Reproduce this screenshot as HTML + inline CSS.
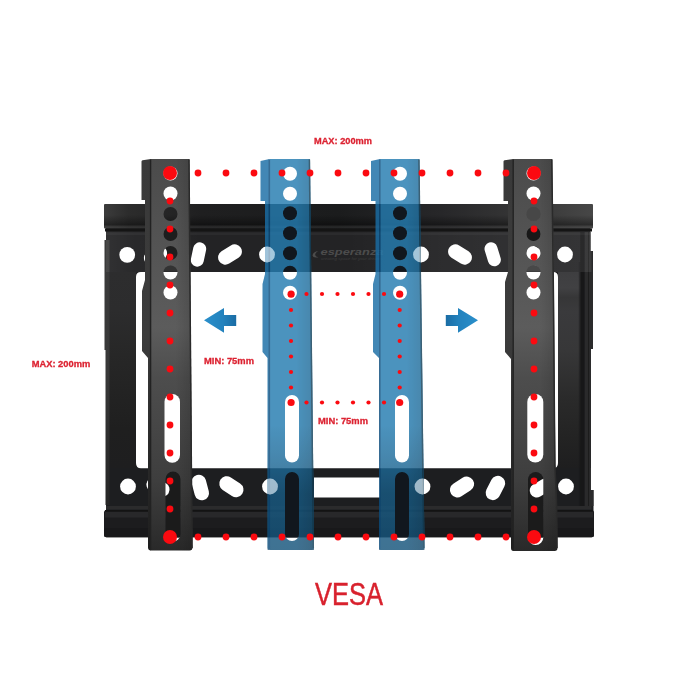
<!DOCTYPE html>
<html><head><meta charset="utf-8">
<style>
html,body{margin:0;padding:0;background:#fff;}
body{width:700px;height:700px;overflow:hidden;font-family:"Liberation Sans",sans-serif;}
svg{display:block}
text{font-family:"Liberation Sans",sans-serif;}
</style></head><body>
<svg width="700" height="700" viewBox="0 0 700 700">
<defs>
  <!-- frame holes (drawn white on top of frame) -->
  <g id="topholes">
    <circle cx="127.2" cy="254.8" r="7.9"/>
    <rect x="143.25" y="248.25" width="24.5" height="14.5" rx="7.25" transform="rotate(-30 155.5 255.5)"/>
    <rect x="186.25" y="248" width="24.5" height="13" rx="6.5" transform="rotate(-78 198.5 254.5)"/>
    <rect x="217.25" y="247.25" width="25.5" height="14.5" rx="7.25" transform="rotate(-32 230 254.5)"/>
    <circle cx="267" cy="254.5" r="7.9"/>
    <circle cx="421" cy="254.5" r="7.9"/>
    <rect x="447.25" y="247.25" width="25.5" height="14.5" rx="7.25" transform="rotate(32 460 254.5)"/>
    <rect x="480.45" y="247.8" width="24.5" height="13" rx="6.5" transform="rotate(73 492.7 254.3)"/>
    <rect x="518.5" y="246" width="28" height="17" rx="8.5" transform="rotate(30 532.5 254.5)"/>
    <circle cx="565" cy="254.5" r="7.9"/>
  </g>
  <g id="botholes">
    <circle cx="128" cy="486.5" r="7.9"/>
    <rect x="145.75" y="479.75" width="24.5" height="14.5" rx="7.25" transform="rotate(30 158 487)"/>
    <rect x="187.3" y="480.25" width="26" height="14.5" rx="7.25" transform="rotate(75 200.3 487.5)"/>
    <rect x="218.4" y="479.2" width="26" height="15" rx="7.5" transform="rotate(33 231.4 486.7)"/>
    <circle cx="270" cy="486.5" r="7.9"/>
    <circle cx="422.5" cy="486.5" r="7.9"/>
    <rect x="449" y="479.5" width="26" height="15" rx="7.5" transform="rotate(-33 462 487)"/>
    <rect x="482.65" y="480.75" width="25.5" height="14.5" rx="7.25" transform="rotate(-63 495.4 488)"/>
    <rect x="529" y="481" width="24" height="14" rx="7" transform="rotate(-30 541 488)"/>
    <circle cx="566" cy="486.5" r="7.9"/>
  </g>

  <linearGradient id="lipg" x1="0" y1="0" x2="0" y2="1">
    <stop offset="0" stop-color="#2a2a2a"/><stop offset="0.25" stop-color="#1d1d1d"/><stop offset="1" stop-color="#181818"/>
  </linearGradient>
  <linearGradient id="blipg" x1="0" y1="0" x2="0" y2="1">
    <stop offset="0" stop-color="#2c2c2c"/><stop offset="0.2" stop-color="#1a1a1a"/><stop offset="1" stop-color="#111"/>
  </linearGradient>
  <linearGradient id="armface" gradientUnits="userSpaceOnUse" x1="0" y1="159" x2="0" y2="551">
    <stop offset="0" stop-color="#4b4b4b"/><stop offset="0.18" stop-color="#525252"/><stop offset="0.43" stop-color="#5c5c5c"/>
    <stop offset="0.56" stop-color="#4d4d4d"/><stop offset="0.72" stop-color="#444"/><stop offset="0.82" stop-color="#3e3e3e"/><stop offset="0.92" stop-color="#333"/><stop offset="1" stop-color="#292929"/>
  </linearGradient>
  <linearGradient id="armflange" gradientUnits="userSpaceOnUse" x1="0" y1="159" x2="0" y2="551">
    <stop offset="0" stop-color="#393939"/><stop offset="0.45" stop-color="#3c3c3c"/><stop offset="0.72" stop-color="#2c2c2c"/><stop offset="1" stop-color="#1e1e1e"/>
  </linearGradient>
  <linearGradient id="plateg" gradientUnits="userSpaceOnUse" x1="0" y1="227" x2="0" y2="512">
    <stop offset="0" stop-color="#232325"/><stop offset="0.5" stop-color="#232324"/><stop offset="0.85" stop-color="#1d1e20"/><stop offset="1" stop-color="#1d1e20"/>
  </linearGradient>
  <linearGradient id="liph" gradientUnits="userSpaceOnUse" x1="104" y1="0" x2="593" y2="0">
    <stop offset="0" stop-color="#3c3c3c"/><stop offset="0.05" stop-color="#2c2c2c"/><stop offset="0.2" stop-color="#1f1f20"/>
    <stop offset="0.48" stop-color="#1b1c1d"/><stop offset="0.69" stop-color="#272729"/><stop offset="0.9" stop-color="#3a3a3a"/><stop offset="1" stop-color="#474747"/>
  </linearGradient>
  <linearGradient id="lipv" x1="0" y1="0" x2="0" y2="1">
    <stop offset="0" stop-color="#000" stop-opacity="0"/><stop offset="0.45" stop-color="#000" stop-opacity="0"/><stop offset="0.85" stop-color="#000" stop-opacity="0.4"/><stop offset="1" stop-color="#000" stop-opacity="0.1"/>
  </linearGradient>
  <linearGradient id="hlh" gradientUnits="userSpaceOnUse" x1="104" y1="0" x2="593" y2="0">
    <stop offset="0" stop-color="#fff" stop-opacity="0.07"/><stop offset="0.06" stop-color="#fff" stop-opacity="0.03"/><stop offset="0.2" stop-color="#fff" stop-opacity="0"/>
    <stop offset="0.5" stop-color="#fff" stop-opacity="0"/><stop offset="0.69" stop-color="#fff" stop-opacity="0.045"/><stop offset="1" stop-color="#fff" stop-opacity="0.08"/>
  </linearGradient>
  <linearGradient id="sideL" gradientUnits="userSpaceOnUse" x1="0" y1="272" x2="0" y2="468">
    <stop offset="0" stop-color="#2d2d2e"/><stop offset="0.2" stop-color="#2c2c2d"/><stop offset="0.42" stop-color="#272727"/><stop offset="0.8" stop-color="#1f1f1f"/><stop offset="1" stop-color="#1e1e1f"/>
  </linearGradient>
  <linearGradient id="sideR" gradientUnits="userSpaceOnUse" x1="0" y1="272" x2="0" y2="468">
    <stop offset="0" stop-color="#3e3e40"/><stop offset="0.08" stop-color="#414143"/><stop offset="0.13" stop-color="#363637"/><stop offset="0.2" stop-color="#3a3a3c"/><stop offset="0.4" stop-color="#373738"/><stop offset="0.65" stop-color="#2a2a2a"/><stop offset="0.85" stop-color="#232323"/><stop offset="1" stop-color="#1e1e1f"/>
  </linearGradient>
  <linearGradient id="sideRband" gradientUnits="userSpaceOnUse" x1="573" y1="0" x2="589" y2="0">
    <stop offset="0" stop-color="#161617" stop-opacity="0"/><stop offset="0.35" stop-color="#161617" stop-opacity="1"/><stop offset="1" stop-color="#1c1c1d" stop-opacity="1"/>
  </linearGradient>
  <linearGradient id="sideHL" gradientUnits="userSpaceOnUse" x1="0" y1="240" x2="0" y2="506">
    <stop offset="0" stop-color="#3a3a3a"/><stop offset="0.5" stop-color="#383838"/><stop offset="0.8" stop-color="#2c2c2c"/><stop offset="1" stop-color="#262626"/>
  </linearGradient>
  <linearGradient id="bluedark" gradientUnits="userSpaceOnUse" x1="0" y1="425" x2="0" y2="550">
    <stop offset="0" stop-color="#0d3a58" stop-opacity="0"/><stop offset="0.25" stop-color="#0d3a58" stop-opacity="0.22"/>
    <stop offset="0.55" stop-color="#0d3a58" stop-opacity="0.52"/><stop offset="1" stop-color="#0d3a58" stop-opacity="0.6"/>
  </linearGradient>
  <clipPath id="cB1"><path d="M260.5,159 H310 L314,550 H267.5 V358 L262.5,352 V284 L265,274 V201 H260.5 Z"/></clipPath>
  <clipPath id="cB2"><path d="M371,159 H419.5 L424.5,550 H379 V358 L373,352 V284 L375.5,274 V201 H371 Z"/></clipPath>
  <linearGradient id="faceh" x1="0" y1="0" x2="1" y2="0">
    <stop offset="0" stop-color="#000" stop-opacity="0"/><stop offset="0.6" stop-color="#000" stop-opacity="0"/><stop offset="1" stop-color="#000" stop-opacity="0.14"/>
  </linearGradient>
  <clipPath id="cLf"><path d="M150.5,159 H189.5 L192.5,547.5 Q192.5,550.5 189.5,550.5 H150.5 Z"/></clipPath>
  <clipPath id="cRf"><path d="M513,159 H552.3 L554,300 L554.8,400 L555.4,465 L557,500 L557.5,548 Q557.5,551 554.5,551 H513 Z"/></clipPath>
  <clipPath id="plateclip"><path d="M106,227 H590.5 V251 H593 V349 H590.8 V490 H593.5 V512 H106 Z"/></clipPath>
  <linearGradient id="arrowL" x1="0" y1="0" x2="1" y2="0">
    <stop offset="0" stop-color="#2a8fcb"/><stop offset="0.6" stop-color="#2382bd"/><stop offset="1" stop-color="#1a6ca4"/>
  </linearGradient>
  <linearGradient id="arrowR" x1="0" y1="0" x2="1" y2="0">
    <stop offset="0" stop-color="#1a6ca4"/><stop offset="0.4" stop-color="#2382bd"/><stop offset="1" stop-color="#2a8fcb"/>
  </linearGradient>

  <!-- arm masks: white = visible, black = hole -->
  <mask id="mLarm" maskUnits="userSpaceOnUse" x="0" y="0" width="700" height="700">
    <rect width="700" height="700" fill="#fff"/>
    <g fill="#000">
      <circle cx="170.5" cy="173.5" r="7"/><circle cx="170.5" cy="193.5" r="7"/><circle cx="170.5" cy="214" r="7"/>
      <circle cx="170.5" cy="234" r="7"/><circle cx="170.5" cy="253" r="7"/><circle cx="170.5" cy="272.5" r="7"/>
      <circle cx="170.5" cy="292.5" r="7"/>
      <rect x="164.5" y="394" width="15.5" height="68.7" rx="7.7"/>
      <rect x="165.5" y="471.5" width="15" height="70" rx="7.5"/>
    </g>
  </mask>
  <mask id="mRarm" maskUnits="userSpaceOnUse" x="0" y="0" width="700" height="700">
    <rect width="700" height="700" fill="#fff"/>
    <g fill="#000">
      <circle cx="533.5" cy="173.5" r="7"/><circle cx="533.5" cy="193.5" r="7"/><circle cx="533.5" cy="214" r="7"/>
      <circle cx="533.5" cy="234" r="7"/><circle cx="533.5" cy="253" r="7"/><circle cx="533.5" cy="272.5" r="7"/>
      <circle cx="533.5" cy="292.5" r="7"/>
      <rect x="527.3" y="394" width="16" height="68.5" rx="8"/>
      <rect x="528" y="472" width="15.3" height="73" rx="7.6"/>
    </g>
  </mask>
  <mask id="mB1" maskUnits="userSpaceOnUse" x="0" y="0" width="700" height="700">
    <rect width="700" height="700" fill="#fff"/>
    <g fill="#000">
      <circle cx="290" cy="173.7" r="7"/><circle cx="290" cy="193.7" r="7"/><circle cx="290" cy="213.2" r="7"/>
      <circle cx="290" cy="233.2" r="7"/><circle cx="290" cy="253.2" r="7"/><circle cx="290" cy="272.7" r="7"/>
      <circle cx="290" cy="292.7" r="7"/>
      <rect x="285" y="395" width="14" height="67.5" rx="7"/>
      <rect x="285" y="472" width="14" height="69" rx="7"/>
    </g>
  </mask>
  <mask id="mB2" maskUnits="userSpaceOnUse" x="0" y="0" width="700" height="700">
    <rect width="700" height="700" fill="#fff"/>
    <g fill="#000">
      <circle cx="400" cy="173.7" r="7"/><circle cx="400" cy="193.7" r="7"/><circle cx="400" cy="213.2" r="7"/>
      <circle cx="400" cy="233.2" r="7"/><circle cx="400" cy="253.2" r="7"/><circle cx="400" cy="272.7" r="7"/>
      <circle cx="400" cy="292.7" r="7"/>
      <rect x="395" y="395" width="14" height="67.5" rx="7"/>
      <rect x="395" y="472" width="14" height="69" rx="7"/>
    </g>
  </mask>
  <mask id="mSolid" maskUnits="userSpaceOnUse" x="0" y="0" width="700" height="700">
    <rect width="700" height="700" fill="#000"/>
    <rect x="104" y="204" width="490" height="67.7" fill="#fff"/>
    <rect x="104" y="469" width="490" height="68.5" fill="#fff"/>
    <use href="#topholes" fill="#000"/><use href="#botholes" fill="#000"/>
    <rect x="314" y="477.5" width="66" height="20" fill="#000"/>
  </mask>
  <clipPath id="frameclip">
    <rect x="104" y="204" width="490" height="67.5"/>
    <rect x="104" y="469" width="490" height="68.5"/>
  </clipPath>
</defs>

<rect width="700" height="700" fill="#fff"/>

<!-- ===== FRAME ===== -->
<g id="frame">
  <!-- main plate with opening -->
  <path fill="url(#plateg)" fill-rule="evenodd" d="M106,227 H590.5 V251 H593 V349 H590.8 V490 H593.5 V512 H106 Z M141,272 H553 Q558,272 558,277 V463 Q558,468.3 553,468.3 H141 Q136,468.3 136,463 V277 Q136,272 141,272 Z"/>
  <!-- side bars -->
  <rect x="106" y="272" width="30" height="196" fill="url(#sideL)"/>
  <path d="M104.5,240 H109.5 V505 H105.5 V350 H104.5 Z" fill="url(#sideHL)"/>
  <rect x="558" y="272" width="33" height="196" fill="url(#sideR)"/>
  <g clip-path="url(#plateclip)">
    <rect x="584" y="232" width="10" height="274" fill="#2a2a2b"/>
    <rect x="580.3" y="232" width="4.3" height="274" fill="#171718"/>
    <rect x="578.8" y="262" width="1.5" height="244" fill="#171718" opacity="0.45"/>
    <rect x="588" y="232" width="0.8" height="274" fill="#1a1a1a"/>
  </g>
  <rect x="106" y="228" width="485.5" height="44" fill="url(#hlh)"/>
  <!-- top lip -->
  <rect x="104" y="204" width="489" height="24.5" rx="1" fill="url(#liph)"/>
  <rect x="104" y="204" width="489" height="24.5" rx="1" fill="url(#lipv)"/>
  <rect x="104" y="225.5" width="489" height="2.5" fill="#fff" opacity="0.07"/>
  <rect x="105" y="228.5" width="487" height="3" fill="#141414"/>
  <rect x="106" y="232.5" width="485.5" height="2.5" fill="#fff" opacity="0.04"/>
  <!-- bottom bar bands + lip -->
  <rect x="106" y="506" width="485.5" height="3.5" fill="#2b2b2c"/>
  <rect x="104" y="510" width="490" height="27.3" rx="2.5" fill="#1c1c1e"/>
  <rect x="105" y="510" width="488" height="1.5" fill="#131313"/>
  <rect x="105" y="512" width="488" height="5.5" fill="#28282a"/>
  <rect x="104" y="528" width="490" height="9.3" rx="2.5" fill="#18181a"/>
  <!-- see-through of arm holes over frame -->
  <g clip-path="url(#frameclip)">
    <circle cx="170.5" cy="234" r="7.3" fill="#1d1d1d"/><circle cx="170.5" cy="253.1" r="7.3" fill="#1f1f1f"/>
    <circle cx="170.5" cy="272.6" r="7.3" fill="#333"/>
    <circle cx="533.5" cy="214" r="7.3" fill="#474747"/><circle cx="533.5" cy="234" r="7.3" fill="#181818"/>
    <circle cx="533.5" cy="253.1" r="7.3" fill="#222"/><circle cx="533.5" cy="272.6" r="7.3" fill="#484848"/>
    <rect x="165.5" y="471.5" width="15" height="70" rx="7.5" fill="#1b1b1b"/>
    <rect x="528" y="472" width="15.3" height="73" rx="7.6" fill="#1b1b1b"/>
  </g>
  <g clip-path="url(#frameclip)" fill="#11171e">
    <circle cx="290" cy="213.1" r="7"/><circle cx="290" cy="233.1" r="7"/><circle cx="290" cy="253.1" r="7"/><circle cx="290" cy="272.6" r="7"/>
    <circle cx="400" cy="213.1" r="7"/><circle cx="400" cy="233.1" r="7"/><circle cx="400" cy="253.1" r="7"/><circle cx="400" cy="272.6" r="7"/>
    <rect x="285" y="472" width="14" height="69" rx="7"/>
    <rect x="395" y="472" width="14" height="69" rx="7"/>
  </g>
  <!-- holes -->
  <use href="#topholes" fill="#fff"/>
  <use href="#botholes" fill="#fff"/>
  <rect x="314" y="477.5" width="66" height="20" fill="#fff"/>
  <!-- logo -->
  <g fill="#4c4c4c" font-style="italic" font-weight="bold">
    <path d="M312.5,255.5 Q313,251.5 318.5,251 Q315,252.5 315.2,255 Q315.5,257 318.5,257.2 Q313,258.3 312.5,255.5 Z"/>
    <text x="320.5" y="255.2" font-size="9.6" textLength="63" lengthAdjust="spacingAndGlyphs">esperanza</text>
    <text x="321" y="259.6" font-size="3.6" font-weight="normal" fill="#3c3c3c" textLength="62" lengthAdjust="spacingAndGlyphs">creating space for your dreams</text>
  </g>
</g>

<!-- ===== LEFT BLACK ARM ===== -->
<g mask="url(#mLarm)">
  <path fill="url(#armflange)" d="M141.5,161.5 Q141.5,160.5 142.5,160.3 L151,159 V550.5 Q148,550.5 148,547.5 V358 L142,351 V291 L145,280 V200 H141.5 Z"/>
  <path fill="url(#armface)" d="M150.5,159 H189.5 L192.5,547.5 Q192.5,550.5 189.5,550.5 H150.5 Z"/>
  <rect x="150.5" y="159" width="42" height="392" fill="url(#faceh)" clip-path="url(#cLf)"/>
  <path d="M150.6,159.5 V550" stroke="#222" stroke-width="1.4" fill="none"/>
  <path d="M189,159.5 L192,548" stroke="#2a2a2a" stroke-width="1.5" fill="none"/>
</g>

<!-- ===== RIGHT BLACK ARM ===== -->
<g mask="url(#mRarm)">
  <path fill="url(#armflange)" d="M503.5,161.5 Q503.5,160.5 504.5,160.3 L513.5,159 V551 Q511,551 511,548 V359 L505,352 V282 L508,272 V201 H503.5 Z"/>
  <path fill="url(#armface)" d="M513,159 H552.3 L554,300 L554.8,400 L555.4,465 L557,500 L557.5,548 Q557.5,551 554.5,551 H513 Z"/>
  <rect x="513" y="159" width="44.5" height="392" fill="url(#faceh)" clip-path="url(#cRf)"/>
  <path d="M513.2,159.5 V550" stroke="#222" stroke-width="1.4" fill="none"/>
  <path d="M551.8,159.5 L553.5,300 L554.3,400 L554.9,465 L556.5,500 L557,548" stroke="#2a2a2a" stroke-width="1.5" fill="none"/>
</g>

<!-- ===== BLUE ARMS ===== -->
<g mask="url(#mB1)"><g opacity="0.825">
  <path fill="#1a6ea6" d="M260.5,161 L269.5,159 V550 H269.5 Q267.5,550 267.5,548 V358 L262.5,352 V284 L265,274 V201 H260.5 Z"/>
  <path fill="#257cb0" d="M269.5,159 H310 L314,548 Q314,550 312,550 H269.5 Z"/>
  <rect x="260" y="425" width="56" height="126" fill="url(#bluedark)" clip-path="url(#cB1)"/>
  <rect x="269.5" y="159" width="44.5" height="392" fill="url(#faceh)" clip-path="url(#cB1)"/>
  <path d="M269.3,159.5 V549" stroke="#0b4c7c" stroke-width="1.6" fill="none"/>
  <path d="M309.4,159.5 L313.3,548" stroke="#123f58" stroke-width="1.5" fill="none"/>
</g></g>
<g mask="url(#mB2)"><g opacity="0.825">
  <path fill="#1a6ea6" d="M371,161 L380,159 V550 H380.5 Q379,550 379,548 V358 L373,352 V284 L375.5,274 V201 H371 Z"/>
  <path fill="#257cb0" d="M380,159 H419.5 L424.5,548 Q424.5,550 422.5,550 H380 Z"/>
  <rect x="370" y="425" width="56" height="126" fill="url(#bluedark)" clip-path="url(#cB2)"/>
  <rect x="380" y="159" width="44.5" height="392" fill="url(#faceh)" clip-path="url(#cB2)"/>
  <path d="M379.8,159.5 V549" stroke="#0b4c7c" stroke-width="1.6" fill="none"/>
  <path d="M418.9,159.5 L423.8,548" stroke="#123f58" stroke-width="1.5" fill="none"/>
</g></g>

<g fill="#fff" opacity="0.5">
  <g clip-path="url(#cB1)"><circle cx="267" cy="254.5" r="7.9"/><circle cx="270" cy="486.5" r="7.9"/></g>
  <g clip-path="url(#cB2)"><circle cx="421" cy="254.5" r="7.9"/><circle cx="422.5" cy="486.5" r="7.9"/></g>
</g>

<!-- ===== ARROWS ===== -->
<path fill="url(#arrowL)" d="M204,320.3 L224,308 V315 H236.2 V326 H224 V332.7 Z"/>
<path fill="url(#arrowR)" d="M478,320.3 L458,308 V315 H445.8 V326 H458 V332.7 Z"/>

<!-- ===== RED DOTS ===== -->
<g fill="#fb0a10">
  <!-- corners -->
  <circle cx="170" cy="173" r="7"/><circle cx="534" cy="173" r="7"/>
  <circle cx="170" cy="537" r="7"/><circle cx="534" cy="537" r="7"/>
  <!-- top & bottom rows -->
  <g id="hrow">
    <circle cx="198" cy="173" r="3.4"/><circle cx="226" cy="173" r="3.4"/><circle cx="254" cy="173" r="3.4"/>
    <circle cx="282" cy="173" r="3.4"/><circle cx="310" cy="173" r="3.4"/><circle cx="338" cy="173" r="3.4"/>
    <circle cx="366" cy="173" r="3.4"/><circle cx="394" cy="173" r="3.4"/><circle cx="422" cy="173" r="3.4"/>
    <circle cx="450" cy="173" r="3.4"/><circle cx="478" cy="173" r="3.4"/><circle cx="506" cy="173" r="3.4"/>
  </g>
  <use href="#hrow" y="364"/>
  <!-- left & right columns -->
  <g id="vcol">
    <circle cx="170" cy="201" r="3.4"/><circle cx="170" cy="229" r="3.4"/><circle cx="170" cy="257" r="3.4"/>
    <circle cx="170" cy="285" r="3.4"/><circle cx="170" cy="313" r="3.4"/><circle cx="170" cy="341" r="3.4"/>
    <circle cx="170" cy="369" r="3.4"/><circle cx="170" cy="397" r="3.4"/><circle cx="170" cy="425" r="3.4"/>
    <circle cx="170" cy="453" r="3.4"/><circle cx="170" cy="481" r="3.4"/><circle cx="170" cy="509" r="3.4"/>
  </g>
  <use href="#vcol" x="364"/>
  <!-- inner square -->
  <circle cx="291.1" cy="294.2" r="3.6"/><circle cx="399.7" cy="294.2" r="3.6"/>
  <circle cx="291.1" cy="402.5" r="3.6"/><circle cx="399.7" cy="402.5" r="3.6"/>
  <g id="ihrow">
    <circle cx="306.5" cy="294" r="2.1"/><circle cx="322" cy="294" r="2.1"/><circle cx="337.5" cy="294" r="2.1"/>
    <circle cx="353" cy="294" r="2.1"/><circle cx="368.5" cy="294" r="2.1"/><circle cx="384" cy="294" r="2.1"/>
  </g>
  <use href="#ihrow" y="108.5"/>
  <g id="ivcol">
    <circle cx="291" cy="310" r="2.1"/><circle cx="291" cy="325.5" r="2.1"/><circle cx="291" cy="341" r="2.1"/>
    <circle cx="291" cy="356.5" r="2.1"/><circle cx="291" cy="372" r="2.1"/><circle cx="291" cy="387.5" r="2.1"/>
  </g>
  <use href="#ivcol" x="108.7"/>
</g>

<!-- ===== LABELS ===== -->
<g fill="#dc2231" stroke="#dc2231" stroke-width="0.3" font-weight="bold" font-size="9.7">
  <text x="314" y="143.5" textLength="58" lengthAdjust="spacingAndGlyphs">MAX: 200mm</text>
  <text x="31.7" y="367.4" textLength="58.6" lengthAdjust="spacingAndGlyphs">MAX: 200mm</text>
  <text x="204" y="364" textLength="50" lengthAdjust="spacingAndGlyphs">MIN: 75mm</text>
  <text x="318" y="424" textLength="50" lengthAdjust="spacingAndGlyphs">MIN: 75mm</text>
</g>
<text x="315" y="604.5" font-size="31.6" fill="#d8212d" stroke="#d8232f" stroke-width="0.5" textLength="68" lengthAdjust="spacingAndGlyphs">VESA</text>
</svg>
</body></html>
